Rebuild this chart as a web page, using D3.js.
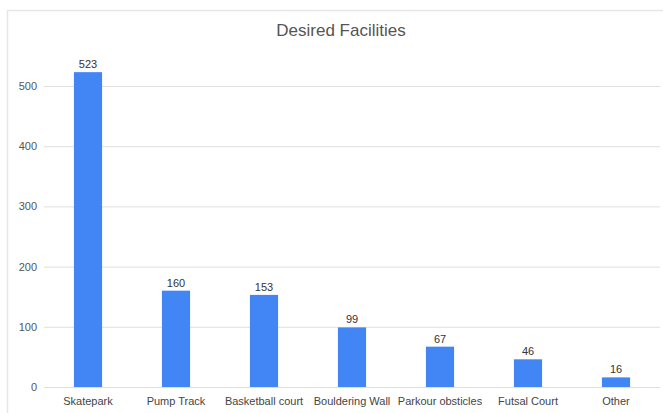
<!DOCTYPE html>
<html>
<head>
<meta charset="utf-8">
<script src="https://cdn.jsdelivr.net/npm/d3@7"></script>
<style>
  body { margin: 0; background: #fff; }
  text { font-family: "Liberation Sans", Arial, sans-serif; }
</style>
</head>
<body>
<div class="Chart"></div>
<script>
// chart data
var facilities = ["Skatepark", "Pump Track", "Basketball court", "Bouldering Wall", "Parkour obsticles", "Futsal Court", "Other"];
var counts = [523, 160, 153, 99, 67, 46, 16];
var yTicks = [0, 100, 200, 300, 400, 500];

var width = 663;
var height = 413;

var svg = d3.select(".Chart")
            .append("svg")
            .attr("width", width)
            .attr("height", height);

// light frame round the chart
svg.append("rect")
   .attr("x", 7.5)
   .attr("y", 10.5)
   .attr("width", 680)
   .attr("height", 420)
   .attr("fill", "none")
   .attr("stroke", "#e6e6e6")
   .attr("stroke-width", 1.5);

var x = d3.scaleBand()
          .domain(facilities)
          .range([44, 660])
          .paddingInner(0.68)
          .paddingOuter(0.34);

var y = d3.scaleLinear()
          .domain([0, 500])
          .range([387, 86]);

// title
svg.append("text")
   .attr("x", 341)
   .attr("y", 36)
   .attr("text-anchor", "middle")
   .attr("font-size", 17)
   .attr("fill", "#555")
   .text("Desired Facilities");

// gridlines + y labels
var yAxis = d3.axisLeft(y)
              .tickValues(yTicks)
              .tickSize(-(660 - 44))
              .tickPadding(7);

var yg = svg.append("g")
            .attr("transform", "translate(44,0)")
            .call(yAxis);
yg.select(".domain").remove();
yg.selectAll(".tick line").attr("stroke", "#e0e0e0");
yg.selectAll(".tick text")
  .attr("font-size", 11)
  .attr("fill", "#555");

// bars
svg.append("g")
   .selectAll("rect")
   .data(counts)
   .enter().append("rect")
   .attr("x", function(d, i) { return x(facilities[i]); })
   .attr("y", function(d) { return y(d); })
   .attr("width", x.bandwidth())
   .attr("height", function(d) { return y(0) - y(d); })
   .attr("fill", "#4285f4");

// value labels
svg.append("g")
   .selectAll("text")
   .data(counts)
   .enter().append("text")
   .attr("x", function(d, i) { return x(facilities[i]) + x.bandwidth() / 2; })
   .attr("y", function(d) { return y(d) - 4; })
   .attr("text-anchor", "middle")
   .attr("font-size", 11)
   .attr("fill", "#333")
   .text(function(d) { return d; });

// category labels
var xAxis = d3.axisBottom(x).tickSize(0).tickPadding(10);
var xg = svg.append("g")
            .attr("transform", "translate(0,387)")
            .call(xAxis);
xg.select(".domain").remove();
xg.selectAll(".tick text")
  .attr("font-size", 11)
  .attr("fill", "#444");
</script>
</body>
</html>
